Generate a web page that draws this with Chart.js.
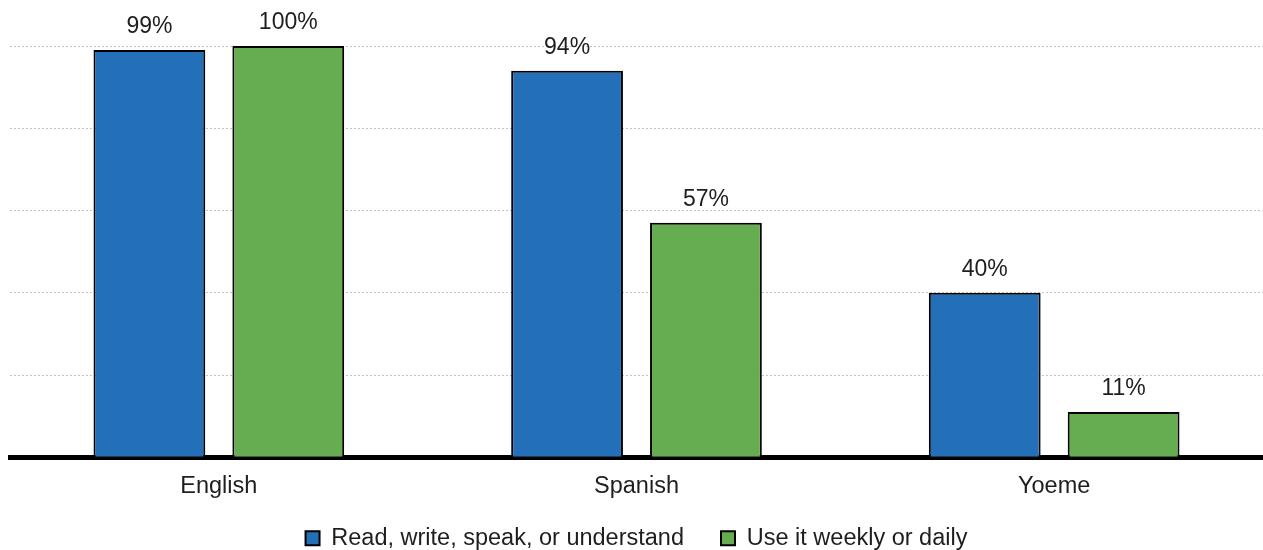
<!DOCTYPE html>
<html>
<head>
<meta charset="utf-8">
<script src="https://cdn.jsdelivr.net/npm/chart.js@4"></script>
<style>
  body { margin: 0; background: #fff; }
  #wrap { width: 1263px; height: 550px; position: relative; }
</style>
</head>
<body>
<div id="wrap"><canvas id="langChart"></canvas></div>
<script>
const languages = ["English", "Spanish", "Yoeme"];
const knowValues = [99, 94, 40];
const useValues = [100, 57, 11];
const seriesNames = ["Read, write, speak, or understand", "Use it weekly or daily"];

const FONT = "'Liberation Sans', Arial, sans-serif";
const TEXT = "#1e1e1e";

// percent labels above each bar
const barLabels = {
  id: "barLabels",
  afterDatasetsDraw(chart) {
    const ctx = chart.ctx;
    ctx.save();
    ctx.font = "23px " + FONT;
    ctx.fillStyle = TEXT;
    ctx.textAlign = "center";
    ctx.textBaseline = "alphabetic";
    chart.data.datasets.forEach((ds, i) => {
      chart.getDatasetMeta(i).data.forEach((bar, j) => {
        ctx.fillText(ds.data[j] + "%", bar.x, bar.y - 17);
      });
    });
    ctx.restore();
  }
};

// legend padding is wide to space the two items apart; pull the row up a bit
const legendLift = {
  id: "legendLift",
  afterLayout(chart) {
    const lg = chart.legend;
    lg.top -= 26;
    lg.bottom -= 26;
  }
};

new Chart(document.getElementById("langChart"), {
  type: "bar",
  data: {
    labels: languages,
    datasets: [
      { label: seriesNames[0], data: knowValues, backgroundColor: "#2370b8", borderColor: "#000", borderWidth: 2 },
      { label: seriesNames[1], data: useValues, backgroundColor: "#66ad52", borderColor: "#000", borderWidth: 2 }
    ]
  },
  options: {
    responsive: true,
    maintainAspectRatio: false,
    animation: false,
    categoryPercentage: 0.665,
    barPercentage: 0.805,
    layout: { padding: { top: 46, left: 10, right: 0, bottom: -36 } },
    scales: {
      x: {
        grid: { display: false, drawTicks: false },
        border: { display: true, color: "#000", width: 5 },
        ticks: { color: TEXT, font: { family: FONT, size: 23.5 }, padding: 15 }
      },
      y: {
        min: 0,
        max: 100,
        ticks: { display: false, stepSize: 20 },
        grid: { color: "#c4c4c4", lineWidth: 1, drawTicks: false },
        border: { display: false, dash: [2, 2] }
      }
    },
    plugins: {
      legend: {
        position: "bottom",
        labels: {
          color: TEXT,
          font: { family: FONT, size: 23.5 },
          boxWidth: 14,
          boxHeight: 14,
          padding: 37
        }
      },
      tooltip: { enabled: false }
    }
  },
  plugins: [barLabels, legendLift]
});
</script>
</body>
</html>
